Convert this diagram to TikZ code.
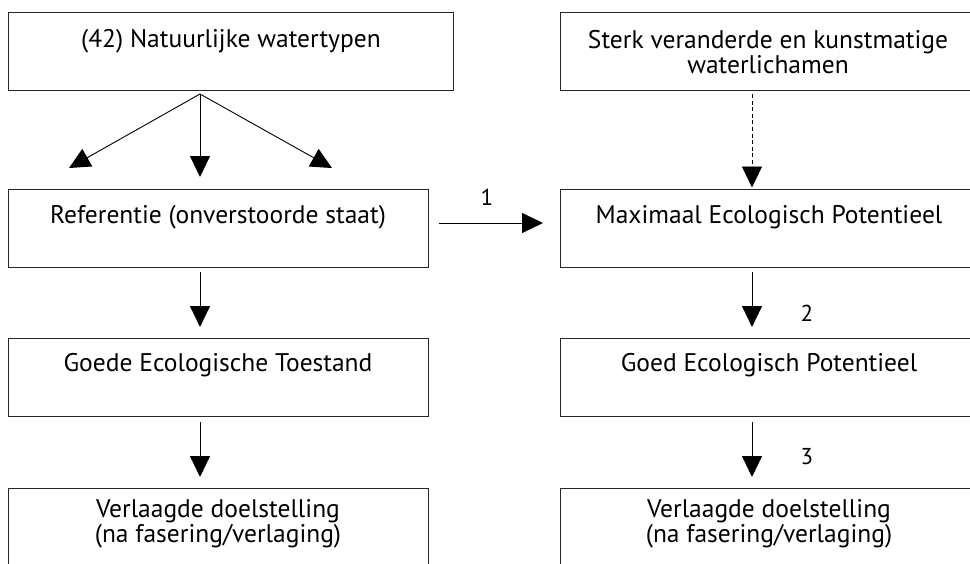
\documentclass[tikz,border=0pt]{standalone}
\usepackage{fontspec}
\setmainfont{PT Sans}
\usetikzlibrary{arrows.meta}
\begin{document}
\begin{tikzpicture}[x=1pt,y=-1pt,
  box/.style={draw=black!85, line width=1.1pt, minimum height=78pt, inner sep=0pt, anchor=north west},
  txt/.style={font=\fontsize{25.5}{25}\selectfont, inner sep=0pt, anchor=base},
  arr/.style={-{Triangle[length=21pt,width=20pt]}, line width=0.9pt},
  darr/.style={arr, dash pattern=on 4pt off 2.6pt},
  num/.style={font=\fontsize{23}{25}\selectfont, inner sep=0pt}]
\useasboundingbox (0,0) rectangle (970,563);
\clip (0,0) rectangle (970,563);
% boxes
\node[box, minimum width=445pt] (b1) at (8,11.5) {};
\node[box, minimum width=420pt] (b2) at (8,188.5) {};
\node[box, minimum width=420pt] (b3) at (8,337.5) {};
\node[box, minimum width=420pt] (b4) at (8,487.5) {};
\node[box, minimum width=420pt] (c1) at (560,11.5) {};
\node[box, minimum width=420pt] (c2) at (560,188.5) {};
\node[box, minimum width=420pt] (c3) at (560,337.5) {};
\node[box, minimum width=420pt] (c4) at (560,487.5) {};
% texts
\node[txt] (t1) at (231,47) {(42) Natuurlijke watertypen};
\node[txt] (t2) at (218,223) {Referentie (onverstoorde staat)};
\node[txt] (t3) at (218,371) {Goede Ecologische Toestand};
\node[txt] (t4a) at (218,517) {Verlaagde doelstelling};
\node[txt] (t4b) at (218,542) {(na fasering/verlaging)};
\node[txt] (s1a) at (768,48) {Sterk veranderde en kunstmatige};
\node[txt] (s1b) at (768,73) {waterlichamen};
\node[txt] (s2) at (769,223) {Maximaal Ecologisch Potentieel};
\node[txt] (s3) at (769,371) {Goed Ecologisch Potentieel};
\node[txt] (s4a) at (769,517) {Verlaagde doelstelling};
\node[txt] (s4b) at (769,542) {(na fasering/verlaging)};
% connector end points
\coordinate (a0) at (200,94);
\coordinate (aL) at (69,168);
\coordinate (aM) at (200,177);
\coordinate (aR) at (332,168);
\coordinate (a2s) at (200,272);
\coordinate (a2e) at (200,327);
\coordinate (a3s) at (200,422);
\coordinate (a3e) at (200,477);
\coordinate (h1s) at (439,223);
\coordinate (h1e) at (543,223);
\coordinate (d0) at (752,94);
\coordinate (d1) at (752,187.5);
\coordinate (r2s) at (752,272);
\coordinate (r2e) at (752,327);
\coordinate (r3s) at (752,422);
\coordinate (r3e) at (752,477);
% arrows
\draw[arr] (a0) -- (aL);
\draw[arr] (a0) -- (aM);
\draw[arr] (a0) -- (aR);
\draw[arr] (a2s) -- (a2e);
\draw[arr] (a3s) -- (a3e);
\draw[arr] (h1s) -- (h1e);
\draw[darr] (d0) -- (d1);
\draw[arr] (r2s) -- (r2e);
\draw[arr] (r3s) -- (r3e);
% labels
\node[num] (n1) at (487,197) {1};
\node[num] (n2) at (807,313) {2};
\node[num] (n3) at (807,457) {3};
\end{tikzpicture}
\end{document}
